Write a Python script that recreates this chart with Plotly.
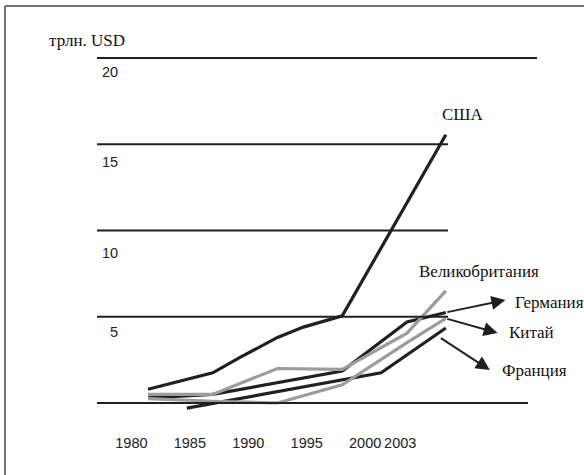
import plotly.graph_objects as go

# ---- data (trillion USD) ----
years_usa = [1980, 1985, 1987, 1990, 1992, 1995, 2003]
usa = [0.8, 1.75, 2.6, 3.8, 4.4, 5.05, 15.55]
years_uk = [1980, 1985, 1990, 1995, 2000, 2003]
uk = [0.5, 0.5, 2.0, 1.95, 4.05, 6.5]
years_de = [1980, 1985, 1995, 2000, 2003]
germany = [0.3, 0.5, 1.85, 4.7, 5.25]
years_cn = [1980, 1985, 1990, 1995, 2000, 2003]
china = [0.25, 0.1, 0.0, 1.05, 3.5, 4.9]
years_fr = [1983, 1998, 2003]
france = [-0.3, 1.75, 4.35]

x_tick_years = [1980, 1985, 1990, 1995, 2000, 2003]
x_tick_labels = ["1980", "1985", "1990", "1995", "2000", "2003"]
y_tick_values = [20, 15, 10, 5]
grid_values = [20, 15, 10, 5, 0]

W, H = 584, 475
BLACK = "#231f20"
GRAY = "#9c9c9c"
SERIF = "Liberation Serif, Times New Roman, Times, serif"
SANS = "Liberation Sans, Arial, sans-serif"


def px(x):
    return x / W


def py(y):
    return 1 - y / H


fig = go.Figure()

for xs, ys, col in [
    (years_usa, usa, BLACK),
    (years_de, germany, BLACK),
    (years_fr, france, BLACK),
    (years_uk, uk, GRAY),
    (years_cn, china, GRAY),
]:
    fig.add_trace(go.Scatter(x=xs, y=ys, mode="lines",
                             line=dict(color=col, width=3.2),
                             showlegend=False, hoverinfo="skip"))

# invisible trace to activate the label axis
fig.add_trace(go.Scatter(x=[x_tick_years[0]], y=[None], xaxis="x2",
                         showlegend=False, hoverinfo="skip"))

shapes = []
# horizontal hand-drawn guide lines with different lengths
grid_right = {20: 537, 15: 448, 10: 448, 5: 448, 0: 528}
for v in grid_values:
    shapes.append(dict(type="line", xref="paper", yref="y",
                       x0=px(97), x1=px(grid_right[v]), y0=v, y1=v,
                       line=dict(color=BLACK, width=1.8)))
# frame (top and left)
shapes.append(dict(type="line", xref="paper", yref="paper",
                   x0=px(5), x1=1, y0=py(6), y1=py(6),
                   line=dict(color="#444", width=1.5)))
shapes.append(dict(type="line", xref="paper", yref="paper",
                   x0=px(5), x1=px(5), y0=0, y1=py(6),
                   line=dict(color="#444", width=1.5)))

ann = []
# y labels below each line
y_label_shift = {20: 14, 15: 18, 10: 22, 5: 15}
for v in y_tick_values:
    ann.append(dict(text=str(v), xref="paper", yref="y", x=px(120), y=v,
                    xanchor="right", yanchor="middle", yshift=-y_label_shift[v],
                    showarrow=False, font=dict(family=SANS, size=14.5, color="#222")))

ann.append(dict(text="трлн. USD", xref="paper", yref="paper", x=px(47), y=py(40),
                xanchor="left", yanchor="middle", showarrow=False,
                font=dict(family=SERIF, size=17, color="#111")))

serif = dict(family=SERIF, size=17, color="#111")
ann.append(dict(text="США", xref="paper", yref="paper", x=px(462.5), y=py(114),
                xanchor="center", yanchor="middle", showarrow=False, font=serif))
ann.append(dict(text="Великобритания", xref="paper", yref="paper", x=px(478.5), y=py(271),
                xanchor="center", yanchor="middle", showarrow=False, font=serif))
ann.append(dict(text="Германия", xref="paper", yref="paper", x=px(513), y=py(302),
                xanchor="left", yanchor="middle", showarrow=False, font=serif))
ann.append(dict(text="Китай", xref="paper", yref="paper", x=px(507), y=py(332),
                xanchor="left", yanchor="middle", showarrow=False, font=serif))
ann.append(dict(text="Франция", xref="paper", yref="paper", x=px(500), y=py(370),
                xanchor="left", yanchor="middle", showarrow=False, font=serif))

# arrows from line ends to labels
arrow = dict(showarrow=True, text="", arrowhead=2, arrowsize=1.4, arrowwidth=2,
             arrowcolor=BLACK, axref="x", ayref="y", xref="x", yref="y", standoff=0)
ann.append(dict(arrow, x=2007.6, y=5.97, ax=years_de[-1], ay=germany[-1]))
ann.append(dict(arrow, x=2007.0, y=4.06, ax=years_cn[-1], ay=china[-1]))
ann.append(dict(arrow, x=2006.4, y=1.91, ax=2002.5, ay=3.82))

fig.update_layout(
    width=W, height=H, margin=dict(l=0, r=0, t=0, b=0),
    paper_bgcolor="white", plot_bgcolor="white",
    shapes=shapes, annotations=ann,
    xaxis=dict(range=[1968.57, 2013.67], visible=False),
    xaxis2=dict(range=[1968.76, 2018.72], overlaying="x", anchor="free",
                position=0.0905, side="bottom",
                tickmode="array", tickvals=x_tick_years, ticktext=x_tick_labels,
                showgrid=False, zeroline=False, showline=False, ticks="",
                tickfont=dict(family=SANS, size=14.5, color="#222")),
    yaxis=dict(range=[-4.174, 23.362], visible=False),
)

fig.write_html("out.html", config={"displayModeBar": False},
               post_script="document.body.style.margin='0';document.body.style.overflow='hidden';")
